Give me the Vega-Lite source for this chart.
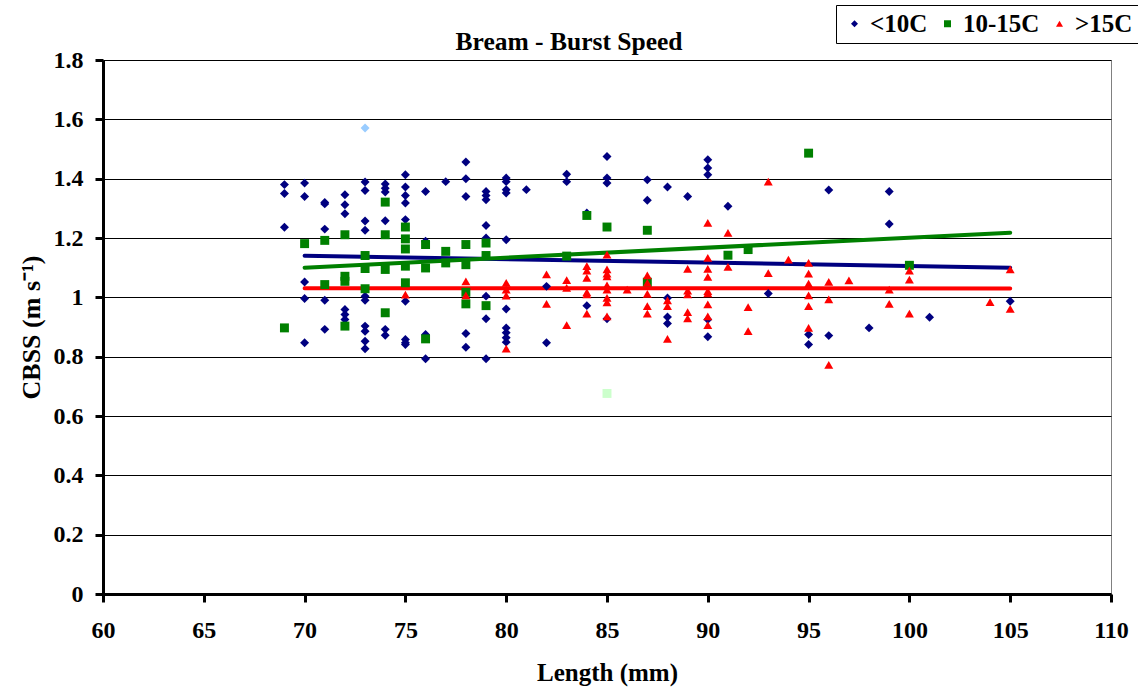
{
  "$schema": "https://vega.github.io/schema/vega-lite/v6.json",
  "width": 1008,
  "height": 534,
  "autosize": {"type": "none"},
  "padding": {"left": 103, "top": 60, "right": 27, "bottom": 97},
  "background": "white",
  "title": {"text": "Bream - Burst Speed", "font": "Liberation Serif", "fontSize": 25.5, "fontWeight": "bold", "color": "black", "anchor": "middle", "dx": -38, "offset": -51},
  "config": {
    "view": {"stroke": "#808080", "strokeWidth": 1},
    "axis": {"labelFont": "Liberation Serif", "labelFontSize": 24, "labelFontWeight": "bold", "labelColor": "black", "titleFont": "Liberation Serif", "titleFontSize": 25, "titleFontWeight": "bold", "titleColor": "black", "domainColor": "black", "domainWidth": 3, "tickColor": "black", "tickWidth": 3, "tickSize": 8, "labelOverlap": false, "labelBound": false, "labelFlush": false}
  },
  "encoding": {
    "x": {"field": "len", "type": "quantitative", "scale": {"domain": [60, 110], "nice": false, "zero": false}, "axis": {"values": [60, 65, 70, 75, 80, 85, 90, 95, 100, 105, 110], "grid": false, "title": "Length (mm)", "labelPadding": 16, "titlePadding": 18}},
    "y": {"field": "cbss", "type": "quantitative", "scale": {"domain": [0, 1.8], "nice": false, "zero": true}, "axis": {"values": [0, 0.2, 0.4, 0.6, 0.8, 1, 1.2, 1.4, 1.6, 1.8], "format": "~g", "grid": true, "gridColor": "black", "gridWidth": 1, "title": "CBSS (m s⁻¹)", "titleFontSize": 26, "labelPadding": 12, "titlePadding": 9}}
  },
  "layer": [
    {
      "data": {"values": [{"len": 70, "cbss": 1.14}, {"len": 105, "cbss": 1.10}]},
      "mark": {"type": "line", "strokeWidth": 4, "strokeCap": "round", "color": "#000080"}
    },
    {
      "data": {"values": [{"len": 70, "cbss": 1.10}, {"len": 105, "cbss": 1.218}]},
      "mark": {"type": "line", "strokeWidth": 4, "strokeCap": "round", "color": "#008000"}
    },
    {
      "data": {"values": [{"len": 70, "cbss": 1.031}, {"len": 105, "cbss": 1.03}]},
      "mark": {"type": "line", "strokeWidth": 4, "strokeCap": "round", "color": "#FF0000"}
    },
    {
      "data": {"values": [
        {"len": 69, "cbss": 1.38, "t": "<10C"}, {"len": 69, "cbss": 1.35, "t": "<10C"}, {"len": 69, "cbss": 1.236, "t": "<10C"},
        {"len": 70, "cbss": 1.385, "t": "<10C"}, {"len": 70, "cbss": 1.34, "t": "<10C"}, {"len": 70, "cbss": 1.052, "t": "<10C"}, {"len": 70, "cbss": 0.996, "t": "<10C"}, {"len": 70, "cbss": 0.847, "t": "<10C"},
        {"len": 71, "cbss": 1.32, "t": "<10C"}, {"len": 71, "cbss": 1.315, "t": "<10C"}, {"len": 71, "cbss": 1.23, "t": "<10C"}, {"len": 71, "cbss": 0.99, "t": "<10C"}, {"len": 71, "cbss": 0.892, "t": "<10C"},
        {"len": 72, "cbss": 1.346, "t": "<10C"}, {"len": 72, "cbss": 1.312, "t": "<10C"}, {"len": 72, "cbss": 1.282, "t": "<10C"}, {"len": 72, "cbss": 0.959, "t": "<10C"}, {"len": 72, "cbss": 0.942, "t": "<10C"}, {"len": 72, "cbss": 0.925, "t": "<10C"},
        {"len": 73, "cbss": 1.389, "t": "<10C"}, {"len": 73, "cbss": 1.36, "t": "<10C"}, {"len": 73, "cbss": 1.257, "t": "<10C"}, {"len": 73, "cbss": 1.226, "t": "<10C"}, {"len": 73, "cbss": 1.004, "t": "<10C"}, {"len": 73, "cbss": 0.99, "t": "<10C"}, {"len": 73, "cbss": 0.903, "t": "<10C"}, {"len": 73, "cbss": 0.886, "t": "<10C"}, {"len": 73, "cbss": 0.852, "t": "<10C"}, {"len": 73, "cbss": 0.827, "t": "<10C"},
        {"len": 74, "cbss": 1.382, "t": "<10C"}, {"len": 74, "cbss": 1.368, "t": "<10C"}, {"len": 74, "cbss": 1.355, "t": "<10C"}, {"len": 74, "cbss": 1.258, "t": "<10C"}, {"len": 74, "cbss": 0.892, "t": "<10C"}, {"len": 74, "cbss": 0.872, "t": "<10C"},
        {"len": 75, "cbss": 1.413, "t": "<10C"}, {"len": 75, "cbss": 1.372, "t": "<10C"}, {"len": 75, "cbss": 1.343, "t": "<10C"}, {"len": 75, "cbss": 1.318, "t": "<10C"}, {"len": 75, "cbss": 1.262, "t": "<10C"}, {"len": 75, "cbss": 0.987, "t": "<10C"}, {"len": 75, "cbss": 0.858, "t": "<10C"}, {"len": 75, "cbss": 0.847, "t": "<10C"}, {"len": 75, "cbss": 0.841, "t": "<10C"},
        {"len": 76, "cbss": 1.357, "t": "<10C"}, {"len": 76, "cbss": 1.189, "t": "<10C"}, {"len": 76, "cbss": 0.875, "t": "<10C"}, {"len": 76, "cbss": 0.793, "t": "<10C"},
        {"len": 77, "cbss": 1.39, "t": "<10C"},
        {"len": 78, "cbss": 1.456, "t": "<10C"}, {"len": 78, "cbss": 1.4, "t": "<10C"}, {"len": 78, "cbss": 1.34, "t": "<10C"}, {"len": 78, "cbss": 0.878, "t": "<10C"}, {"len": 78, "cbss": 0.832, "t": "<10C"},
        {"len": 79, "cbss": 1.357, "t": "<10C"}, {"len": 79, "cbss": 1.343, "t": "<10C"}, {"len": 79, "cbss": 1.329, "t": "<10C"}, {"len": 79, "cbss": 1.242, "t": "<10C"}, {"len": 79, "cbss": 1.2, "t": "<10C"}, {"len": 79, "cbss": 1.004, "t": "<10C"}, {"len": 79, "cbss": 0.928, "t": "<10C"}, {"len": 79, "cbss": 0.793, "t": "<10C"},
        {"len": 80, "cbss": 1.402, "t": "<10C"}, {"len": 80, "cbss": 1.39, "t": "<10C"}, {"len": 80, "cbss": 1.363, "t": "<10C"}, {"len": 80, "cbss": 1.352, "t": "<10C"}, {"len": 80, "cbss": 1.194, "t": "<10C"}, {"len": 80, "cbss": 0.961, "t": "<10C"}, {"len": 80, "cbss": 0.897, "t": "<10C"}, {"len": 80, "cbss": 0.881, "t": "<10C"}, {"len": 80, "cbss": 0.864, "t": "<10C"}, {"len": 80, "cbss": 0.849, "t": "<10C"},
        {"len": 81, "cbss": 1.363, "t": "<10C"},
        {"len": 82, "cbss": 1.037, "t": "<10C"}, {"len": 82, "cbss": 0.847, "t": "<10C"},
        {"len": 83, "cbss": 1.415, "t": "<10C"}, {"len": 83, "cbss": 1.39, "t": "<10C"},
        {"len": 84, "cbss": 1.284, "t": "<10C"}, {"len": 84, "cbss": 0.972, "t": "<10C"},
        {"len": 85, "cbss": 1.475, "t": "<10C"}, {"len": 85, "cbss": 1.402, "t": "<10C"}, {"len": 85, "cbss": 1.385, "t": "<10C"}, {"len": 85, "cbss": 0.928, "t": "<10C"},
        {"len": 87, "cbss": 1.396, "t": "<10C"}, {"len": 87, "cbss": 1.327, "t": "<10C"},
        {"len": 88, "cbss": 1.372, "t": "<10C"}, {"len": 88, "cbss": 0.998, "t": "<10C"}, {"len": 88, "cbss": 0.934, "t": "<10C"}, {"len": 88, "cbss": 0.912, "t": "<10C"},
        {"len": 89, "cbss": 1.34, "t": "<10C"},
        {"len": 90, "cbss": 1.464, "t": "<10C"}, {"len": 90, "cbss": 1.436, "t": "<10C"}, {"len": 90, "cbss": 1.413, "t": "<10C"}, {"len": 90, "cbss": 0.925, "t": "<10C"}, {"len": 90, "cbss": 0.867, "t": "<10C"},
        {"len": 91, "cbss": 1.307, "t": "<10C"},
        {"len": 93, "cbss": 1.013, "t": "<10C"},
        {"len": 95, "cbss": 0.875, "t": "<10C"}, {"len": 95, "cbss": 0.841, "t": "<10C"},
        {"len": 96, "cbss": 1.362, "t": "<10C"}, {"len": 96, "cbss": 0.871, "t": "<10C"},
        {"len": 98, "cbss": 0.897, "t": "<10C"},
        {"len": 99, "cbss": 1.357, "t": "<10C"}, {"len": 99, "cbss": 1.247, "t": "<10C"},
        {"len": 101, "cbss": 0.933, "t": "<10C"},
        {"len": 105, "cbss": 0.987, "t": "<10C"},

        {"len": 69, "cbss": 0.897, "t": "10-15C"},
        {"len": 70, "cbss": 1.181, "t": "10-15C"},
        {"len": 71, "cbss": 1.192, "t": "10-15C"}, {"len": 71, "cbss": 1.043, "t": "10-15C"},
        {"len": 72, "cbss": 1.211, "t": "10-15C"}, {"len": 72, "cbss": 1.071, "t": "10-15C"}, {"len": 72, "cbss": 1.054, "t": "10-15C"}, {"len": 72, "cbss": 0.903, "t": "10-15C"},
        {"len": 73, "cbss": 1.141, "t": "10-15C"}, {"len": 73, "cbss": 1.097, "t": "10-15C"}, {"len": 73, "cbss": 1.029, "t": "10-15C"},
        {"len": 74, "cbss": 1.321, "t": "10-15C"}, {"len": 74, "cbss": 1.211, "t": "10-15C"}, {"len": 74, "cbss": 1.094, "t": "10-15C"}, {"len": 74, "cbss": 0.948, "t": "10-15C"},
        {"len": 75, "cbss": 1.237, "t": "10-15C"}, {"len": 75, "cbss": 1.197, "t": "10-15C"}, {"len": 75, "cbss": 1.163, "t": "10-15C"}, {"len": 75, "cbss": 1.105, "t": "10-15C"}, {"len": 75, "cbss": 1.049, "t": "10-15C"},
        {"len": 76, "cbss": 1.178, "t": "10-15C"}, {"len": 76, "cbss": 1.099, "t": "10-15C"}, {"len": 76, "cbss": 0.86, "t": "10-15C"},
        {"len": 77, "cbss": 1.155, "t": "10-15C"}, {"len": 77, "cbss": 1.116, "t": "10-15C"},
        {"len": 78, "cbss": 1.178, "t": "10-15C"}, {"len": 78, "cbss": 1.11, "t": "10-15C"}, {"len": 78, "cbss": 1.017, "t": "10-15C"}, {"len": 78, "cbss": 0.978, "t": "10-15C"},
        {"len": 79, "cbss": 1.183, "t": "10-15C"}, {"len": 79, "cbss": 1.141, "t": "10-15C"}, {"len": 79, "cbss": 0.972, "t": "10-15C"},
        {"len": 83, "cbss": 1.139, "t": "10-15C"},
        {"len": 84, "cbss": 1.276, "t": "10-15C"},
        {"len": 85, "cbss": 1.237, "t": "10-15C"},
        {"len": 87, "cbss": 1.226, "t": "10-15C"}, {"len": 87, "cbss": 1.051, "t": "10-15C"},
        {"len": 91, "cbss": 1.142, "t": "10-15C"},
        {"len": 92, "cbss": 1.161, "t": "10-15C"},
        {"len": 95, "cbss": 1.486, "t": "10-15C"},
        {"len": 100, "cbss": 1.108, "t": "10-15C"},

        {"len": 75, "cbss": 1.009, "t": ">15C"},
        {"len": 78, "cbss": 1.054, "t": ">15C"}, {"len": 78, "cbss": 1.007, "t": ">15C"},
        {"len": 80, "cbss": 1.049, "t": ">15C"}, {"len": 80, "cbss": 1.026, "t": ">15C"}, {"len": 80, "cbss": 1.006, "t": ">15C"}, {"len": 80, "cbss": 0.827, "t": ">15C"},
        {"len": 82, "cbss": 1.077, "t": ">15C"}, {"len": 82, "cbss": 0.978, "t": ">15C"},
        {"len": 83, "cbss": 1.058, "t": ">15C"}, {"len": 83, "cbss": 1.032, "t": ">15C"}, {"len": 83, "cbss": 0.906, "t": ">15C"},
        {"len": 84, "cbss": 1.105, "t": ">15C"}, {"len": 84, "cbss": 1.09, "t": ">15C"}, {"len": 84, "cbss": 1.066, "t": ">15C"}, {"len": 84, "cbss": 1.017, "t": ">15C"}, {"len": 84, "cbss": 1.01, "t": ">15C"}, {"len": 84, "cbss": 0.945, "t": ">15C"},
        {"len": 85, "cbss": 1.144, "t": ">15C"}, {"len": 85, "cbss": 1.094, "t": ">15C"}, {"len": 85, "cbss": 1.08, "t": ">15C"}, {"len": 85, "cbss": 1.071, "t": ">15C"}, {"len": 85, "cbss": 1.04, "t": ">15C"}, {"len": 85, "cbss": 1.026, "t": ">15C"}, {"len": 85, "cbss": 0.998, "t": ">15C"}, {"len": 85, "cbss": 0.983, "t": ">15C"}, {"len": 85, "cbss": 0.936, "t": ">15C"},
        {"len": 86, "cbss": 1.026, "t": ">15C"},
        {"len": 87, "cbss": 1.074, "t": ">15C"}, {"len": 87, "cbss": 1.049, "t": ">15C"}, {"len": 87, "cbss": 1.012, "t": ">15C"}, {"len": 87, "cbss": 0.97, "t": ">15C"}, {"len": 87, "cbss": 0.945, "t": ">15C"},
        {"len": 88, "cbss": 0.99, "t": ">15C"}, {"len": 88, "cbss": 0.97, "t": ">15C"}, {"len": 88, "cbss": 0.86, "t": ">15C"},
        {"len": 89, "cbss": 1.096, "t": ">15C"}, {"len": 89, "cbss": 1.023, "t": ">15C"}, {"len": 89, "cbss": 1.01, "t": ">15C"}, {"len": 89, "cbss": 0.95, "t": ">15C"}, {"len": 89, "cbss": 0.929, "t": ">15C"},
        {"len": 90, "cbss": 1.251, "t": ">15C"}, {"len": 90, "cbss": 1.133, "t": ">15C"}, {"len": 90, "cbss": 1.096, "t": ">15C"}, {"len": 90, "cbss": 1.069, "t": ">15C"}, {"len": 90, "cbss": 1.021, "t": ">15C"}, {"len": 90, "cbss": 1.013, "t": ">15C"}, {"len": 90, "cbss": 0.976, "t": ">15C"}, {"len": 90, "cbss": 0.936, "t": ">15C"}, {"len": 90, "cbss": 0.906, "t": ">15C"},
        {"len": 91, "cbss": 1.217, "t": ">15C"}, {"len": 91, "cbss": 1.103, "t": ">15C"},
        {"len": 92, "cbss": 0.967, "t": ">15C"}, {"len": 92, "cbss": 0.886, "t": ">15C"},
        {"len": 93, "cbss": 1.39, "t": ">15C"}, {"len": 93, "cbss": 1.082, "t": ">15C"},
        {"len": 94, "cbss": 1.127, "t": ">15C"},
        {"len": 95, "cbss": 1.116, "t": ">15C"}, {"len": 95, "cbss": 1.08, "t": ">15C"}, {"len": 95, "cbss": 1.046, "t": ">15C"}, {"len": 95, "cbss": 1.007, "t": ">15C"}, {"len": 95, "cbss": 0.97, "t": ">15C"}, {"len": 95, "cbss": 0.897, "t": ">15C"},
        {"len": 96, "cbss": 1.052, "t": ">15C"}, {"len": 96, "cbss": 0.993, "t": ">15C"}, {"len": 96, "cbss": 0.772, "t": ">15C"},
        {"len": 97, "cbss": 1.057, "t": ">15C"},
        {"len": 99, "cbss": 1.026, "t": ">15C"}, {"len": 99, "cbss": 0.978, "t": ">15C"},
        {"len": 100, "cbss": 1.09, "t": ">15C"}, {"len": 100, "cbss": 1.06, "t": ">15C"}, {"len": 100, "cbss": 0.945, "t": ">15C"},
        {"len": 104, "cbss": 0.984, "t": ">15C"},
        {"len": 105, "cbss": 1.094, "t": ">15C"}, {"len": 105, "cbss": 0.961, "t": ">15C"}
      ]},
      "mark": {"type": "point", "filled": true, "opacity": 1, "size": 80},
      "encoding": {
        "color": {"field": "t", "type": "nominal", "scale": {"domain": ["<10C", "10-15C", ">15C"], "range": ["#000080", "#008000", "#FF0000"]}, "legend": {"orient": "none", "legendX": 733, "legendY": -55, "direction": "horizontal", "title": null, "labelFontSize": 25, "labelFont": "Liberation Serif", "labelFontWeight": "bold", "labelColor": "black", "fillColor": "white", "strokeColor": "black", "padding": 6, "symbolOffset": 0, "symbolSize": 49, "labelOffset": 3, "columnPadding": 7}},
        "shape": {"field": "t", "type": "nominal", "scale": {"domain": ["<10C", "10-15C", ">15C"], "range": ["diamond", "square", "triangle-up"]}, "legend": {"orient": "none", "legendX": 733, "legendY": -55, "direction": "horizontal", "title": null, "labelFontSize": 25, "labelFont": "Liberation Serif", "labelFontWeight": "bold", "labelColor": "black", "fillColor": "white", "strokeColor": "black", "padding": 6, "symbolOffset": 0, "symbolSize": 49, "labelOffset": 3, "columnPadding": 7}}
      }
    },
    {
      "data": {"values": [{"len": 73, "cbss": 1.571}]},
      "mark": {"type": "point", "shape": "diamond", "filled": true, "opacity": 1, "size": 80, "color": "#99CCFF"}
    },
    {
      "data": {"values": [{"len": 85, "cbss": 0.676}]},
      "mark": {"type": "point", "shape": "square", "filled": true, "opacity": 1, "size": 80, "color": "#CCFFCC"}
    }
  ]
}
